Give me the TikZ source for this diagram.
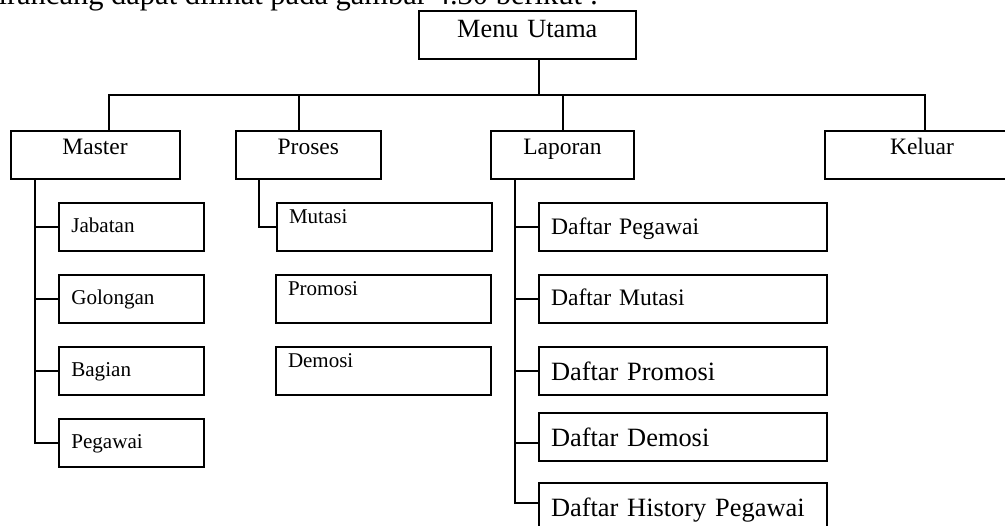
\documentclass[tikz,border=0pt]{standalone}
\usepackage{fontspec}
\setmainfont{Liberation Serif}
\usetikzlibrary{calc}
\begin{document}
\begin{tikzpicture}[x=0.5pt,y=-0.5pt,line width=1pt,
  box/.style={draw,rectangle,line width=1pt,inner sep=0pt},
  topbox/.style={box,align=center,text width=#1,
    font=\fontsize{11.75pt}{14pt}\selectfont,text height=11.75pt,text depth=12.25pt},
  mbox/.style={box,align=left,inner xsep=6pt,text width=60.2pt,
    font=\fontsize{10.55pt}{12.5pt}\selectfont,text height=14.65pt,text depth=9.35pt},
  pbox/.style={box,align=left,inner xsep=6pt,text width=95.5pt,
    font=\fontsize{10.5pt}{12.5pt}\selectfont,text height=10.4pt,text depth=13.6pt},
  lbox/.style={box,align=left,inner xsep=6pt,text width=132pt,
    font=\fontsize{11.8pt}{14pt}\selectfont,text height=15.5pt,text depth=8.5pt},
  lbig/.style={lbox,font=\fontsize{13.2pt}{15.5pt}\selectfont,text height=16.65pt,text depth=7.35pt},
  intro/.style={anchor=base west,inner sep=0pt,font=\fontsize{15.25pt}{18pt}\selectfont}]
\useasboundingbox (0,0) rectangle (1005,525);
\clip (0,0) rectangle (1005,525);

\node[intro] (introtext) at (-17.7,4.5) {dirancang dapat dilihat pada gambar 4.30 berikut :};

% top level
\node[topbox=108.3pt,anchor=north,text height=13pt,text depth=11pt,
  font=\fontsize{13.15pt}{15.5pt}\selectfont] (menu) at (527.3,10) {Menu Utama};
\node[topbox=84.6pt,anchor=north] (master) at (95.1,130) {Master};
\node[topbox=72.6pt,anchor=north] (proses) at (308.3,130) {Proses};
\node[topbox=71.8pt,anchor=north] (laporan) at (562.5,130) {Laporan};
\node[topbox=97pt,anchor=north] (keluar) at (922,130) {Keluar};

% master children
\node[mbox,anchor=north west] (jab) at (58.3,202) {Jabatan};
\node[mbox,anchor=north west] (gol) at (58.3,274) {Golongan};
\node[mbox,anchor=north west] (bag) at (58.3,346) {Bagian};
\node[mbox,anchor=north west] (peg) at (58.3,418) {Pegawai};

% proses children
\node[pbox,anchor=north west] (mut) at (276,202) {Mutasi};
\node[pbox,anchor=north west] (pro) at (275,274) {Promosi};
\node[pbox,anchor=north west] (dem) at (275,346) {Demosi};

% laporan children
\node[lbox,anchor=north west] (dpeg) at (538,202) {Daftar Pegawai};
\node[lbox,anchor=north west] (dmut) at (538,273.7) {Daftar Mutasi};
\node[lbig,anchor=north west] (dpro) at (538,346) {Daftar Promosi};
\node[lbig,anchor=north west] (ddem) at (538,411.7) {Daftar Demosi};
\node[lbig,anchor=north west] (dhis) at (538,481.7) {Daftar History Pegawai};

% bus
\coordinate (md) at ([xshift=5.85pt]menu.south);
\coordinate (bus) at (md |- 0,95);
\draw (md) -- (bus);
\coordinate (mdrop) at ([xshift=6.95pt]master.north);
\coordinate (kdrop) at ([xshift=1.5pt]keluar.north);
\draw (mdrop) |- (kdrop |- bus) -- (kdrop);
\coordinate (pdrop) at ([xshift=-4.75pt]proses.north);
\draw (pdrop) -- (pdrop |- bus);
\draw (laporan.north) -- (laporan.north |- bus);

% master branch
\coordinate (mv) at ([xshift=-30pt]master.south);
\draw (mv) |- (peg.west);
\foreach \n in {jab,gol,bag} \draw (mv |- \n.west) -- (\n.west);

% proses branch
\coordinate (pv) at ([xshift=-24.65pt]proses.south);
\draw (pv) |- (mut.west);

% laporan branch
\coordinate (lv) at ([xshift=-23.75pt]laporan.south);
\coordinate (dhisw) at ([yshift=2pt]dhis.west);
\coordinate (ddemw) at ([yshift=-3pt]ddem.west);
\draw (lv) |- (dhisw);
\foreach \n in {dpeg,dmut,dpro} \draw (lv |- \n.west) -- (\n.west);
\draw (lv |- ddemw) -- (ddemw);
\end{tikzpicture}
\end{document}
